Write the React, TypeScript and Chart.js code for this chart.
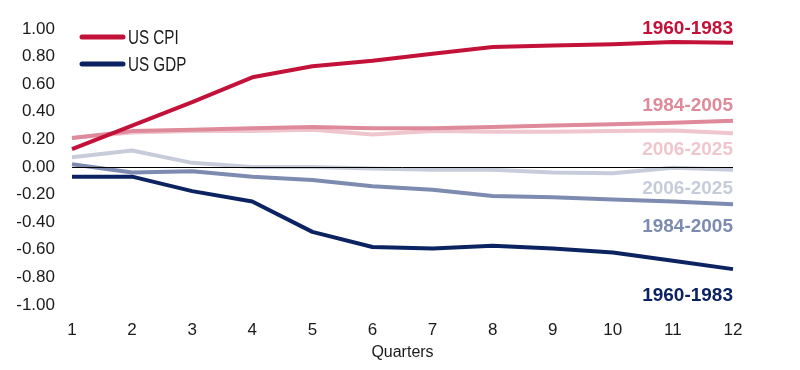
import React, { useEffect, useRef } from "react";
import { Chart, registerables } from "chart.js";

Chart.register(...registerables);

const quarters = ["1", "2", "3", "4", "5", "6", "7", "8", "9", "10", "11", "12"];

const cpi1960 = [0.13, 0.30, 0.47, 0.65, 0.73, 0.77, 0.82, 0.87, 0.88, 0.89, 0.905, 0.90];
const cpi1984 = [0.21, 0.26, 0.27, 0.28, 0.29, 0.28, 0.28, 0.29, 0.30, 0.31, 0.32, 0.335];
const cpi2006 = [0.21, 0.25, 0.26, 0.26, 0.27, 0.235, 0.26, 0.255, 0.255, 0.26, 0.265, 0.245];
const gdp1960 = [-0.07, -0.07, -0.175, -0.25, -0.47, -0.58, -0.59, -0.57, -0.59, -0.62, -0.68, -0.74];
const gdp1984 = [0.02, -0.04, -0.03, -0.07, -0.095, -0.14, -0.165, -0.21, -0.22, -0.235, -0.25, -0.27];
const gdp2006 = [0.07, 0.12, 0.03, 0.0, 0.0, -0.01, -0.02, -0.02, -0.04, -0.045, -0.005, -0.02];

const seriesNames = ["1960-1983", "1984-2005", "2006-2025", "1960-1983", "1984-2005", "2006-2025"];
const seriesColors = ["#C3123A", "#DE8A9A", "#F0C6CE", "#0C2362", "#7D8BB0", "#C6CCDA"];
const seriesData = [cpi1960, cpi1984, cpi2006, gdp1960, gdp1984, gdp2006];
// vertical anchor (in data units) for the end-of-line period labels
const endLabelValues = [1.0, 0.445, 0.125, -0.935, -0.43, -0.16];

const legendNames = ["US CPI", "US GDP"];
const legendColors = ["#C3123A", "#0C2362"];

const yTicks = { min: -1, max: 1, step: 0.2 };

const TEXT = "#1a1a1a";
const SANS = "'Liberation Sans', Arial, sans-serif";

const overlay = {
  id: "overlay",
  afterDatasetsDraw(chart: any) {
    const { ctx, chartArea, scales } = chart;
    const y0 = scales.y.getPixelForValue(0);
    ctx.save();
    ctx.strokeStyle = "#000";
    ctx.lineWidth = 1;
    ctx.beginPath();
    ctx.moveTo(chartArea.left, Math.round(y0) + 0.5);
    ctx.lineTo(chartArea.right, Math.round(y0) + 0.5);
    ctx.stroke();
    ctx.restore();
  },
  afterDraw(chart: any) {
    const { ctx, scales } = chart;
    ctx.save();
    // end labels (slightly condensed bold)
    const xr = scales.x.getPixelForValue(quarters.length - 1);
    ctx.textAlign = "right";
    ctx.textBaseline = "middle";
    seriesNames.forEach((name, i) => {
      ctx.save();
      ctx.font = `bold 19px ${SANS}`;
      ctx.fillStyle = seriesColors[i];
      ctx.fillText(name, xr, scales.y.getPixelForValue(endLabelValues[i]));
      ctx.restore();
    });
    // legend (condensed text)
    legendNames.forEach((name, i) => {
      const ly = 37 + i * 27;
      ctx.strokeStyle = legendColors[i];
      ctx.lineWidth = 5;
      ctx.lineCap = "round";
      ctx.beginPath();
      ctx.moveTo(82, ly);
      ctx.lineTo(123, ly);
      ctx.stroke();
      ctx.save();
      ctx.translate(128, ly);
      ctx.scale(0.76, 1);
      ctx.font = `20px ${SANS}`;
      ctx.textAlign = "left";
      ctx.textBaseline = "middle";
      ctx.fillStyle = TEXT;
      ctx.fillText(name, 0, 1);
      ctx.restore();
    });
    ctx.restore();
  },
};

export default function App() {
  const ref = useRef<HTMLCanvasElement>(null);
  useEffect(() => {
    document.body.style.margin = "0";
    const chart = new Chart(ref.current as HTMLCanvasElement, {
      type: "line",
      data: {
        labels: quarters,
        datasets: seriesData.map((d, i) => ({
          label: seriesNames[i],
          data: d,
          borderColor: seriesColors[i],
          backgroundColor: seriesColors[i],
          borderWidth: 4,
          pointRadius: 0,
          tension: 0,
          fill: false,
          borderCapStyle: "butt",
          borderJoinStyle: "round",
        })),
      },
      options: {
        animation: false,
        responsive: false,
        layout: { padding: { top: 29, right: 67, bottom: 0, left: 0 } },
        plugins: { legend: { display: false }, tooltip: { enabled: false } },
        scales: {
          x: {
            offset: false,
            grid: { display: false, drawTicks: false },
            border: { display: false },
            ticks: { padding: 15, color: TEXT, font: { family: SANS, size: 17 }, maxRotation: 0 },
            title: { display: true, text: "Quarters", color: TEXT, font: { family: SANS, size: 16 }, padding: { top: 0, bottom: 8 } },
            afterFit: (s: any) => { s.height = 65; },
          },
          y: {
            min: yTicks.min,
            max: yTicks.max,
            grid: { display: false, drawTicks: false },
            border: { display: false },
            ticks: {
              stepSize: yTicks.step,
              padding: 17,
              color: TEXT,
              font: { family: SANS, size: 17 },
              callback: (v: any) => (Math.abs(v) < 1e-9 ? 0 : Number(v)).toFixed(2),
            },
            afterFit: (s: any) => { s.width = 72; },
          },
        },
      },
      plugins: [overlay],
    });
    return () => chart.destroy();
  }, []);
  return (
    <div style={{ width: 800, height: 370, background: "#fff" }}>
      <canvas ref={ref} width={800} height={370} />
    </div>
  );
}
